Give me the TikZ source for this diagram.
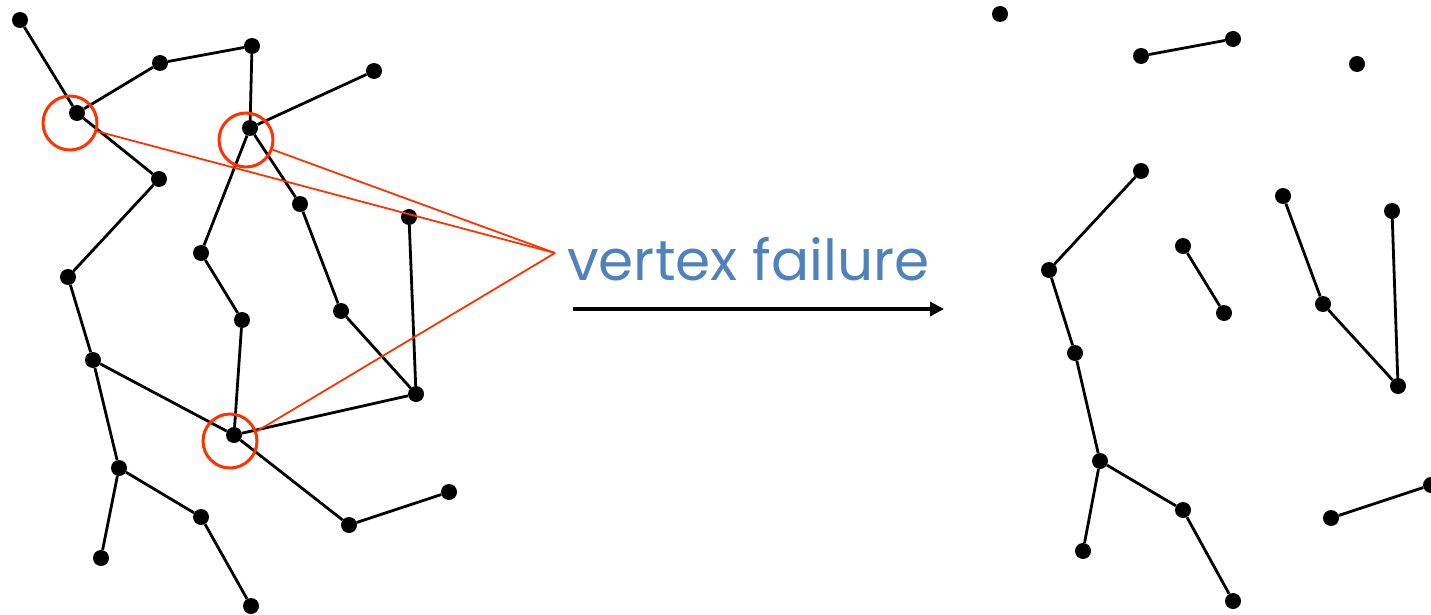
\documentclass[tikz,border=0pt]{standalone}
\usepackage{fontspec}
\newfontfamily\labelfont{Poppins}
\usetikzlibrary{arrows.meta}
\definecolor{lblue}{HTML}{4F81BD}
\definecolor{ored}{HTML}{FF3300}
\tikzset{
  dot/.style={circle,fill=black,inner sep=0pt,minimum size=16pt},
  edge/.style={line width=2.8pt},
  ring/.style={draw=ored,line width=3pt,circle,minimum size=54pt,inner sep=0pt},
  pointer/.style={draw=ored,line width=1.8pt},
}
\begin{document}
\begin{tikzpicture}[x=1pt,y=-1pt]
\useasboundingbox (0,0) rectangle (1431,615);
% left graph
\foreach \n/\x/\y in {a/20/20,b/77/113,c/160/63,d/252/46,e/374/71,f/250/128,g/159/179,h/300/204,i/409/217,j/201/253,k/68/277,l/341/311,m/242/320,n/93/360,o/416/394,p/234/435,q/119/468,r/201/517,s/349/525,t/449/492,u/101/558,v/251/606}
  \node[dot] (L\n) at (\x,\y) {};
\foreach \u/\w in {a/b,b/c,c/d,d/f,f/e,b/g,g/k,f/j,f/h,h/l,l/o,i/o,j/m,m/p,k/n,n/p,n/q,p/o,p/s,s/t,q/r,q/u,r/v}
  \draw[edge] (L\u) -- (L\w);
% right graph
\foreach \n/\x/\y in {a/1000/14,c/1141/56,d/1233/39,e/1357/64,g/1141/171,h/1283/196,i/1392/211,j/1183/246,k/1049/270,l/1323/304,m/1224/313,n/1075/353,o/1398/386,q/1100/461,r/1183/510,s/1331/518,t/1431/485,u/1083/551,v/1233/601}
  \node[dot] (R\n) at (\x,\y) {};
\foreach \u/\w in {c/d,g/k,j/m,h/l,l/o,i/o,k/n,n/q,q/r,q/u,r/v,s/t}
  \draw[edge] (R\u) -- (R\w);
% failure markers
\node[ring] (cb) at (70,123) {};
\node[ring] (cf) at (246,140) {};
\node[ring] (cp) at (230,441) {};
\coordinate (apex) at (555,253);
\draw[pointer] (cb.-17) -- (apex);
\draw[pointer] (cf.-20) -- (apex);
\draw[pointer] (cp.20) -- (apex);
\node[anchor=base west,inner sep=0pt,text=lblue,font=\labelfont\fontsize{56.5}{56.5}\selectfont] (lab) at (567,280) {vertex failure};
\coordinate (as) at (573,309);
\coordinate (ae) at (944,309);
\draw[line width=4pt,-{Triangle[length=14pt,width=14pt]}] (as) -- (ae);
\end{tikzpicture}
\end{document}
